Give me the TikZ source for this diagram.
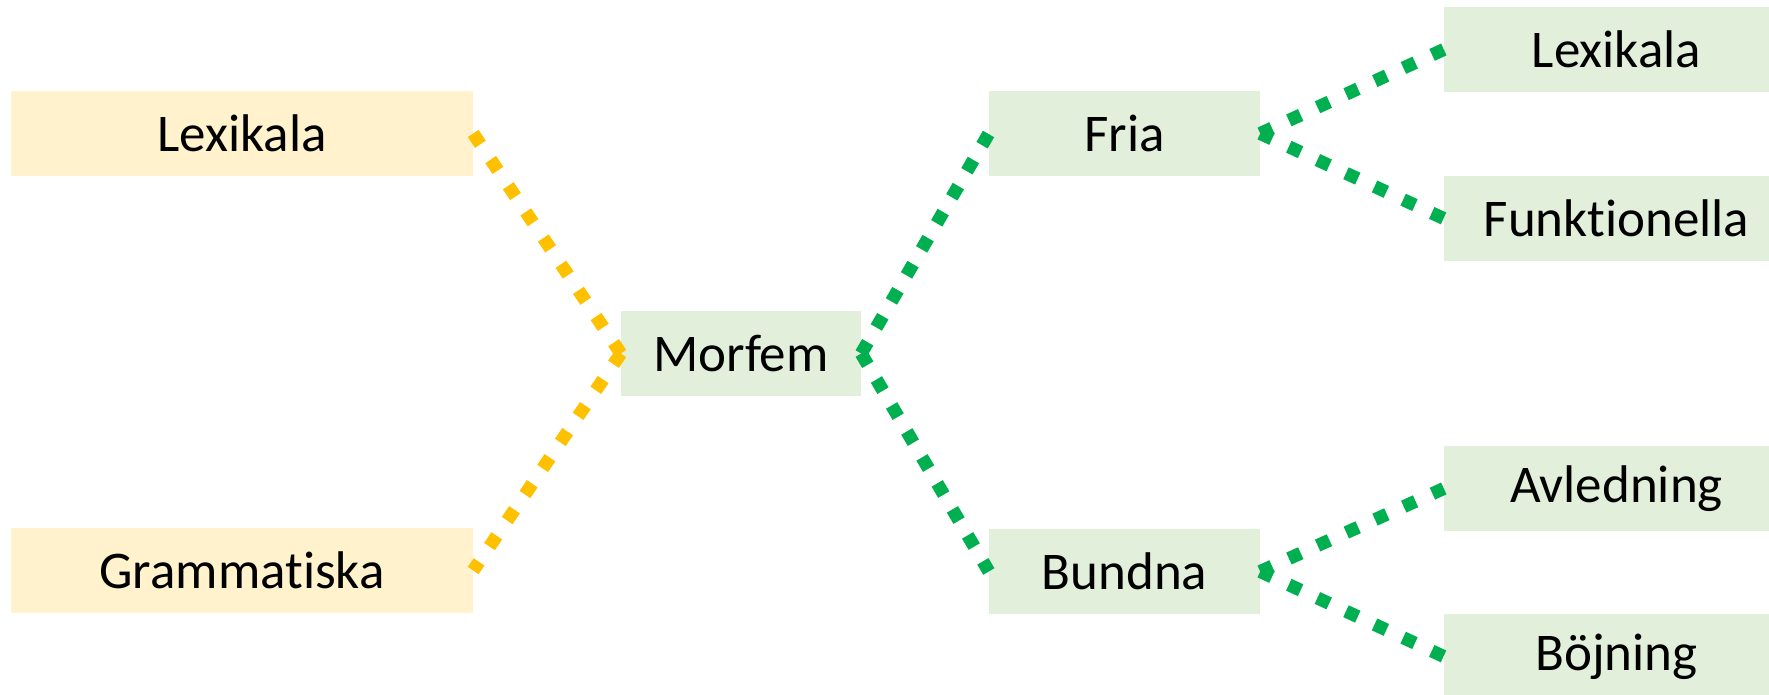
\documentclass[tikz,border=0pt]{standalone}
\usepackage{fontspec}
\setmainfont[Ligatures={NoCommon,NoContextual,NoRequired}]{Carlito}
\definecolor{cYfill}{HTML}{FFF2CC}
\definecolor{cGfill}{HTML}{E2EFDA}
\definecolor{cYline}{HTML}{FFC000}
\definecolor{cGline}{HTML}{00B050}
\begin{document}
\begin{tikzpicture}[x=1pt,y=-1pt,
  box/.style={minimum height=85pt, inner sep=0pt, font=\fontsize{53}{60}\selectfont, text=black},
  ybox/.style={box, fill=cYfill},
  gbox/.style={box, fill=cGfill},
  conn/.style={line width=13pt, dash pattern=on 13pt off #1},
  conn/.default=18.5pt,
  yconn/.style={conn, draw=cYline},
  gconn/.style={conn=#1, draw=cGline},
  gconn/.default=18.5pt]
\useasboundingbox (0,0) rectangle (1769,694);
\node[ybox, minimum width=462pt] (lex) at (242,133.5) {Lexikala};
\node[ybox, minimum width=462pt] (gram) at (242,570.5) {Grammatiska};
\node[gbox, minimum width=240pt] (morf) at (741,353.5) {Morfem};
\node[gbox, minimum width=271pt] (fria) at (1124.5,133.5) {Fria};
\node[gbox, minimum width=271pt] (bund) at (1124.5,571.5) {Bundna};
\node[gbox, minimum width=345pt] (lex2) at (1616.5,49.5) {Lexikala};
\node[gbox, minimum width=345pt] (funk) at (1616.5,218.5) {Funktionella};
\node[gbox, minimum width=345pt] (avl) at (1616.5,488.5) {Avledning};
\node[gbox, minimum width=345pt] (boj) at (1616.5,656.5) {Böjning};
\draw[yconn] (morf.west) -- (lex.east);
\draw[yconn] (morf.west) -- (gram.east);
\draw[gconn=17.1pt] (morf.east) -- (fria.west);
\draw[gconn=17.1pt] (morf.east) -- (bund.west);
\draw[gconn] (fria.east) -- (lex2.west);
\draw[gconn] (fria.east) -- (funk.west);
\draw[gconn] (bund.east) -- (avl.west);
\draw[gconn] (bund.east) -- (boj.west);
\end{tikzpicture}
\end{document}
